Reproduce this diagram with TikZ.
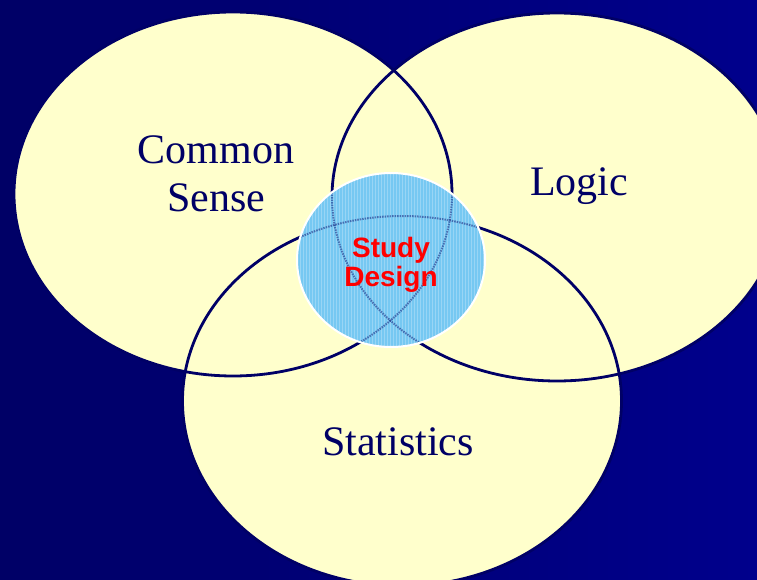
\documentclass[tikz,border=0pt]{standalone}
\usepackage{fontspec}
\setmainfont{Liberation Serif}
\newfontfamily\labelsans{Liberation Sans}
\usepackage{tikz}
\definecolor{deepnavy}{RGB}{0,0,102}
\definecolor{brightnavy}{RGB}{0,0,140}
\definecolor{paleyellow}{RGB}{255,255,204}
\definecolor{skyblue}{RGB}{118,200,242}
\definecolor{designred}{RGB}{255,0,0}
\tikzstyle{setfill} = [fill=paleyellow]
\tikzstyle{setline} = [draw=deepnavy, line width=2.8pt]
\tikzstyle{setlabel} = [text=deepnavy, font=\fontsize{42}{48}\selectfont, align=center]
\tikzstyle{corelabel} = [text=designred, font=\labelsans\bfseries\fontsize{28}{29}\selectfont, align=center]

\begin{document}
\begin{tikzpicture}[x=1pt, y=-1pt]

	\useasboundingbox (0,0) rectangle (757,580);
	\shade[left color=deepnavy, right color=brightnavy] (0,0) rectangle (757,580);

	% the three sets
	\fill[setfill] (233,194) ellipse [x radius=219, y radius=182];
	\fill[setfill] (557,197) ellipse [x radius=225, y radius=184];
	\fill[setfill] (402,401) ellipse [x radius=219.5, y radius=185];

	\draw[setline] (233,194) ellipse [x radius=219, y radius=182];
	\draw[setline] (557,197) ellipse [x radius=225, y radius=184];
	\draw[setline] (402,401) ellipse [x radius=219.5, y radius=185];

	% overlap in the middle, set lines seen through it
	\fill[skyblue] (391,260) ellipse [x radius=94, y radius=87];
	\begin{scope}
		\clip (391,260) ellipse [x radius=94, y radius=87];
		\draw[white, opacity=0.25, line width=0.6pt, step=3] (296,172) grid (486,348);
		\draw[setline, opacity=0.45, line width=2pt, dash pattern=on 1.5pt off 1pt] (233,194) ellipse [x radius=219, y radius=182];
		\draw[setline, opacity=0.45, line width=2pt, dash pattern=on 1.5pt off 1pt] (557,197) ellipse [x radius=225, y radius=184];
		\draw[setline, opacity=0.45, line width=2pt, dash pattern=on 1.5pt off 1pt] (402,401) ellipse [x radius=219.5, y radius=185];
	\end{scope}
	\draw[white, line width=2pt] (391,260) ellipse [x radius=94, y radius=87];

	\node (sense) [setlabel] at (216,174) {Common\\Sense};
	\node (logic) [setlabel, anchor=base] at (579,196) {Logic};
	\node (stats) [setlabel, anchor=base] at (398,455) {Statistics};
	\node (design) [corelabel] at (391,265) {Study\\Design};

\end{tikzpicture}
\end{document}
